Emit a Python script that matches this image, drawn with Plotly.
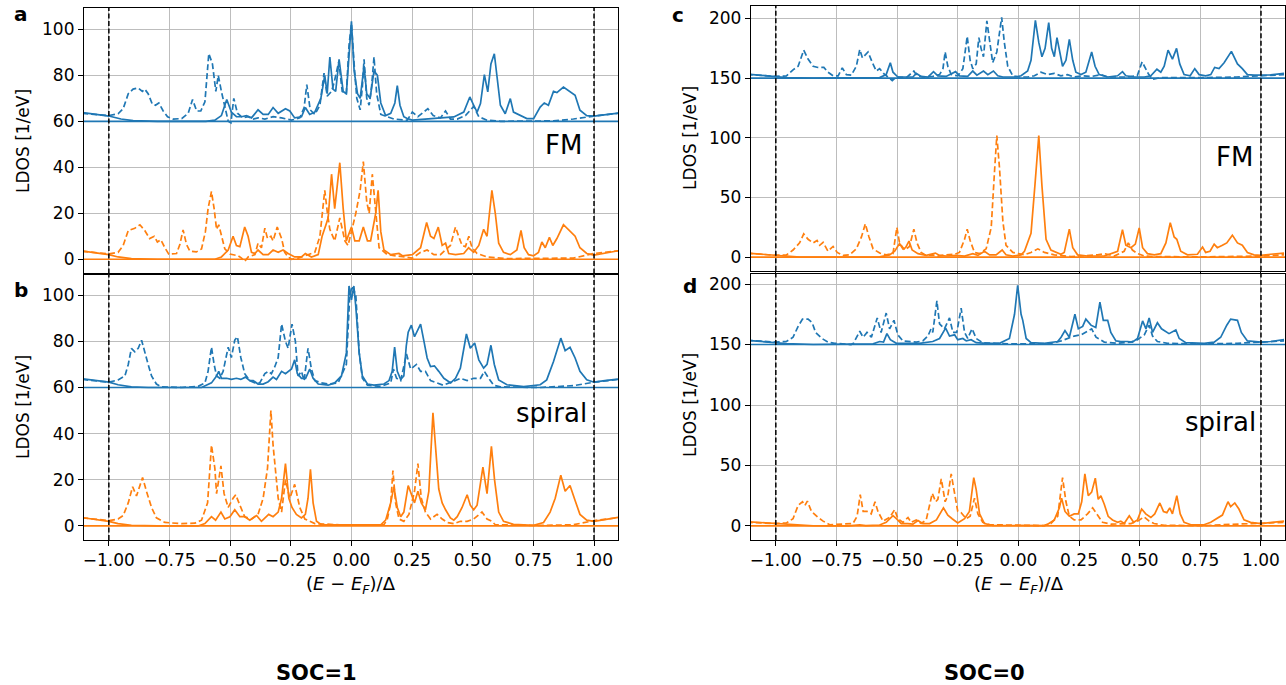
import plotly.graph_objects as go

# ---------------- data: (E-E_F)/Delta , LDOS [1/eV] (blue curves are drawn shifted upward) ----------------
XTICKS = [-1.0, -0.75, -0.5, -0.25, 0.0, 0.25, 0.5, 0.75, 1.0]
YTICKS_SOC1 = [0, 20, 40, 60, 80, 100]
YTICKS_SOC0 = [0, 50, 100, 150, 200]
GAP_EDGES = [-1.0, 1.0]
BASELINE = [(-1.12, 0.0), (1.12, 0.0)]

# panel a : SOC=1, FM
A_BLUE_SOLID = [(-1.11, 3.8), (-1.0, 2.3), (-0.95, 1.0), (-0.9, 0.3), (-0.8, 0), (-0.6, 0), (-0.563, 0.5), (-0.536, 2.5),
    (-0.514, 9.5), (-0.495, 4), (-0.474, 2), (-0.453, 2), (-0.433, 2.5), (-0.412, 1.5), (-0.385, 5), (-0.364, 3),
    (-0.343, 3), (-0.323, 6), (-0.302, 3.5), (-0.272, 5.5), (-0.254, 4.5), (-0.234, 1.5), (-0.206, 2), (-0.19, 6),
    (-0.172, 3), (-0.151, 4), (-0.126, 10), (-0.11, 20), (-0.1, 12), (-0.089, 28), (-0.076, 14), (-0.065, 13),
    (-0.051, 27), (-0.034, 13), (-0.021, 12), (-0.01, 30), (0.0, 43.5), (0.011, 22), (0.025, 12), (0.036, 10),
    (0.052, 24), (0.063, 12), (0.077, 10), (0.093, 22), (0.107, 20), (0.121, 8), (0.141, 2.5), (0.162, 3.5),
    (0.179, 8), (0.189, 15.5), (0.2, 7), (0.216, 2), (0.23, 1.2), (0.251, 0.5), (0.312, 1.0), (0.367, 1.5),
    (0.422, 1.9), (0.463, 4), (0.488, 10.6), (0.504, 7), (0.518, 4), (0.532, 7.7), (0.548, 20.3), (0.562, 12.8),
    (0.575, 25), (0.589, 29.4), (0.6, 18.6), (0.614, 7), (0.634, 3.3), (0.655, 9.9), (0.668, 4), (0.696, 2.5),
    (0.723, 1.2), (0.751, 1.2), (0.778, 6.2), (0.795, 8), (0.812, 7), (0.833, 13), (0.847, 12.5), (0.874, 14.9),
    (0.901, 12.8), (0.922, 11.3), (0.942, 4.8), (0.97, 2.5), (1.0, 2.3), (1.052, 3.0), (1.1, 3.6)]
A_BLUE_DASHED = [(-1.11, 3.5), (-1.0, 2.5), (-0.962, 3.3), (-0.941, 5.5), (-0.92, 12), (-0.9, 14), (-0.879, 14.5),
    (-0.862, 13), (-0.852, 14), (-0.838, 12), (-0.821, 7.5), (-0.808, 7), (-0.794, 8), (-0.776, 4.5), (-0.758, 2),
    (-0.735, 1), (-0.7, 1.2), (-0.673, 3.5), (-0.655, 9.5), (-0.638, 4.5), (-0.621, 4.5), (-0.604, 8.5),
    (-0.588, 29.5), (-0.573, 25), (-0.559, 13), (-0.549, 20), (-0.536, 13), (-0.522, 6), (-0.508, 0), (-0.497, -0.7),
    (-0.485, 10), (-0.47, 3.5), (-0.447, 1.5), (-0.426, 2), (-0.405, 1), (-0.385, 1.5), (-0.357, 1), (-0.323, 2),
    (-0.288, 1.5), (-0.247, 0.5), (-0.213, 1.5), (-0.195, 6), (-0.184, 16), (-0.17, 5), (-0.151, 3), (-0.13, 7),
    (-0.113, 21), (-0.1, 11), (-0.082, 13), (-0.071, 17), (-0.052, 26), (-0.038, 13), (-0.021, 12), (-0.01, 33),
    (0.0, 42.5), (0.011, 25), (0.022, 10), (0.036, 5), (0.045, 15), (0.052, 27), (0.063, 10), (0.073, 7),
    (0.083, 15), (0.093, 28), (0.104, 12), (0.121, 3), (0.148, 2), (0.175, 1), (0.23, 0.5), (0.251, 4), (0.274, 2),
    (0.292, 3.5), (0.315, 5.5), (0.337, 2.5), (0.367, 1.5), (0.388, 4.5), (0.408, 1), (0.436, 1), (0.47, 2.5),
    (0.504, 6.5), (0.525, 2), (0.559, 0.5), (0.614, 0), (0.833, 0.2), (0.915, 1), (1.0, 2.3), (1.1, 3.5)]
A_ORANGE_SOLID = [(-1.11, 3.6), (-1.0, 2), (-0.962, 1), (-0.907, 0.3), (-0.8, 0), (-0.563, 0), (-0.536, 1),
    (-0.508, 4), (-0.488, 10), (-0.474, 6), (-0.46, 5.5), (-0.44, 14), (-0.426, 10), (-0.412, 3), (-0.398, 2.5),
    (-0.385, 4), (-0.364, 2), (-0.343, 2), (-0.323, 4), (-0.302, 3), (-0.282, 4), (-0.261, 2.5), (-0.234, 1),
    (-0.206, 1), (-0.19, 2.5), (-0.165, 1), (-0.137, 2), (-0.121, 10), (-0.105, 15), (-0.096, 18), (-0.082, 37),
    (-0.069, 22), (-0.048, 42), (-0.034, 22), (-0.021, 8), (0.0, 14), (0.014, 8), (0.032, 8), (0.049, 14),
    (0.066, 8), (0.079, 8), (0.1, 20), (0.11, 30), (0.121, 12), (0.134, 4), (0.162, 2), (0.196, 2.5), (0.21, 1.5),
    (0.251, 2), (0.285, 5), (0.31, 16), (0.326, 10), (0.34, 9), (0.358, 14), (0.374, 6), (0.388, 7), (0.401, 2.5),
    (0.429, 2), (0.463, 2.5), (0.483, 5), (0.504, 3), (0.525, 6), (0.545, 13), (0.559, 10), (0.579, 30),
    (0.593, 20), (0.607, 7), (0.627, 3), (0.655, 2), (0.682, 4), (0.699, 12.5), (0.712, 5), (0.73, 2),
    (0.751, 1.5), (0.771, 3), (0.785, 7.5), (0.799, 5), (0.816, 9.5), (0.83, 6), (0.847, 9), (0.874, 15),
    (0.901, 12), (0.922, 10), (0.942, 5), (0.97, 2.5), (1.0, 1.8), (1.1, 3.7)]
A_ORANGE_DASHED = [(-1.11, 3.5), (-1.0, 2.3), (-0.962, 3), (-0.941, 6), (-0.92, 12.5), (-0.893, 13.5),
    (-0.872, 15), (-0.852, 12.5), (-0.832, 9), (-0.813, 10), (-0.8, 7.5), (-0.786, 8.5), (-0.769, 5), (-0.753, 2.2),
    (-0.721, 2.5), (-0.707, 6.5), (-0.694, 12.8), (-0.68, 6.5), (-0.666, 3.5), (-0.639, 3.2), (-0.618, 4.5),
    (-0.602, 12), (-0.591, 22), (-0.577, 29.5), (-0.566, 22), (-0.556, 13), (-0.547, 15), (-0.536, 10),
    (-0.522, 4.5), (-0.501, 2.3), (-0.467, 1.5), (-0.453, 0.5), (-0.44, -1), (-0.426, 1), (-0.398, 2), (-0.385, 7),
    (-0.371, 5), (-0.357, 13.5), (-0.346, 9), (-0.332, 10), (-0.323, 8), (-0.306, 14), (-0.288, 9), (-0.275, 3),
    (-0.261, 1), (-0.247, 0), (-0.22, 0.5), (-0.192, 1.5), (-0.151, 3), (-0.13, 10), (-0.11, 30), (-0.099, 20),
    (-0.089, 13), (-0.069, 8), (-0.048, 18), (-0.027, 8), (-0.014, 6), (0.0, 12), (0.018, 20), (0.036, 30),
    (0.049, 42.5), (0.063, 25), (0.073, 20), (0.086, 37), (0.1, 20), (0.114, 5), (0.148, 2), (0.23, 1),
    (0.251, 0.5), (0.285, 3), (0.312, 4), (0.34, 2), (0.367, 2), (0.408, 6), (0.429, 14), (0.442, 10), (0.456, 6),
    (0.47, 5.5), (0.484, 10), (0.497, 5), (0.518, 2.5), (0.559, 1), (0.641, 0.3), (0.915, 0.5), (1.0, 2.5),
    (1.1, 3.7)]

# panel b : SOC=1, spiral
B_BLUE_SOLID = [(-1.11, 3.8), (-1.0, 2.3), (-0.962, 1.2), (-0.907, 0.3), (-0.838, 0), (-0.618, 0), (-0.577, 2),
    (-0.556, 5), (-0.547, 7), (-0.536, 4), (-0.515, 4), (-0.495, 3.5), (-0.474, 4), (-0.456, 3.5), (-0.437, 4.5),
    (-0.419, 3), (-0.405, 3), (-0.385, 1.5), (-0.364, 1.5), (-0.343, 2.5), (-0.323, 4.5), (-0.309, 3.5),
    (-0.288, 7), (-0.272, 6), (-0.247, 8), (-0.234, 12), (-0.223, 6), (-0.206, 4), (-0.189, 4), (-0.172, 8),
    (-0.158, 4), (-0.137, 1.5), (-0.096, 1), (-0.069, 2), (-0.041, 5), (-0.021, 15), (-0.01, 44), (0.0, 38),
    (0.01, 44), (0.018, 35), (0.032, 15), (0.045, 5), (0.066, 1.5), (0.093, 1), (0.134, 1.5), (0.155, 3),
    (0.168, 7), (0.178, 17.5), (0.189, 7), (0.203, 3.5), (0.216, 5), (0.226, 18), (0.234, 24), (0.247, 27),
    (0.26, 22), (0.285, 27.5), (0.299, 20), (0.312, 12.8), (0.326, 9.1), (0.342, 9.4), (0.36, 7), (0.381, 4),
    (0.409, 2), (0.429, 4), (0.449, 8.4), (0.474, 23.2), (0.49, 17), (0.508, 19.3), (0.525, 12), (0.545, 8.4),
    (0.559, 10), (0.575, 18.3), (0.589, 10), (0.607, 3.3), (0.641, 1.2), (0.71, 0.4), (0.778, 1.2), (0.805, 3.3),
    (0.833, 11.3), (0.863, 21.4), (0.881, 16), (0.901, 17.4), (0.922, 12.8), (0.942, 7), (0.97, 3.3), (1.0, 2.3),
    (1.052, 3.1), (1.1, 3.6)]
B_BLUE_DASHED = [(-1.11, 3.5), (-1.0, 2.3), (-0.962, 3.3), (-0.934, 5), (-0.92, 10), (-0.907, 17), (-0.893, 15.5),
    (-0.879, 17), (-0.865, 20.5), (-0.852, 15), (-0.838, 10), (-0.824, 5), (-0.804, 1.5), (-0.783, 0.3), (-0.7, 0),
    (-0.632, 0.5), (-0.604, 2), (-0.591, 7), (-0.577, 17.5), (-0.566, 10), (-0.556, 5), (-0.543, 4), (-0.529, 7),
    (-0.508, 17.5), (-0.495, 13), (-0.481, 20.5), (-0.47, 22), (-0.456, 13), (-0.44, 6), (-0.419, 3), (-0.398, 2),
    (-0.378, 2), (-0.357, 6), (-0.343, 7), (-0.33, 6), (-0.316, 9), (-0.302, 13), (-0.288, 27.5), (-0.272, 20),
    (-0.261, 17), (-0.245, 27.5), (-0.231, 20), (-0.22, 5), (-0.206, 7), (-0.195, 3), (-0.179, 17), (-0.165, 8),
    (-0.151, 3), (-0.124, 2), (-0.096, 1.5), (-0.055, 2), (-0.021, 10), (-0.007, 40), (0.003, 44), (0.018, 40),
    (0.032, 15), (0.045, 4), (0.066, 1), (0.121, 0.5), (0.162, 2), (0.173, 8), (0.186, 4), (0.203, 3),
    (0.227, 14.5), (0.244, 8), (0.268, 10), (0.285, 7), (0.305, 7), (0.326, 3), (0.353, 2), (0.378, 1), (0.429, 3),
    (0.449, 4), (0.477, 3), (0.504, 4), (0.532, 4), (0.548, 7), (0.566, 4), (0.586, 1), (0.614, 0.3), (0.778, 0),
    (0.915, 0.8), (1.0, 2.3), (1.1, 3.5)]
B_ORANGE_SOLID = [(-1.11, 3.6), (-1.0, 2), (-0.962, 1), (-0.907, 0.3), (-0.8, 0), (-0.632, 0), (-0.604, 1),
    (-0.577, 4), (-0.56, 2.5), (-0.538, 6), (-0.522, 3), (-0.501, 4), (-0.481, 7), (-0.46, 4), (-0.44, 4),
    (-0.419, 2.5), (-0.391, 4.5), (-0.371, 2), (-0.341, 5), (-0.323, 4), (-0.302, 6), (-0.288, 12), (-0.272, 27),
    (-0.258, 12), (-0.245, 8), (-0.227, 5), (-0.206, 3.5), (-0.19, 5), (-0.179, 12), (-0.169, 24.5), (-0.158, 10),
    (-0.144, 2), (-0.124, 0.5), (-0.014, 0.5), (0.0, 0.3), (0.121, 0.5), (0.141, 2.5), (0.162, 10), (0.175, 17),
    (0.189, 8), (0.203, 4), (0.216, 6), (0.234, 17.5), (0.247, 14), (0.26, 10), (0.274, 15), (0.288, 10),
    (0.305, 7), (0.319, 15), (0.336, 49), (0.347, 35), (0.36, 16), (0.374, 10), (0.388, 7), (0.408, 3.5),
    (0.422, 2.5), (0.436, 4), (0.456, 8), (0.477, 13.5), (0.49, 9), (0.504, 7), (0.518, 9), (0.542, 25.5),
    (0.559, 14), (0.577, 34.5), (0.59, 20), (0.607, 6), (0.627, 2), (0.668, 0.7), (0.751, 0.3), (0.792, 1.5),
    (0.819, 6), (0.84, 12), (0.863, 22), (0.881, 15), (0.901, 17.5), (0.922, 11), (0.942, 5), (0.97, 2.5),
    (1.0, 2), (1.1, 3.7)]
B_ORANGE_DASHED = [(-1.11, 3.5), (-1.0, 2.3), (-0.962, 3), (-0.941, 4.5), (-0.92, 10), (-0.902, 17), (-0.886, 13),
    (-0.861, 21), (-0.845, 15), (-0.824, 8), (-0.804, 3.5), (-0.769, 1.5), (-0.7, 1), (-0.645, 1.2), (-0.618, 2.5),
    (-0.593, 10), (-0.577, 35), (-0.563, 25), (-0.556, 14), (-0.538, 26), (-0.525, 14), (-0.508, 8), (-0.488, 12),
    (-0.477, 13.5), (-0.46, 9), (-0.44, 4), (-0.412, 3), (-0.385, 5), (-0.364, 12), (-0.346, 25), (-0.332, 50),
    (-0.323, 35), (-0.302, 12), (-0.288, 6), (-0.272, 20), (-0.254, 12), (-0.234, 18), (-0.213, 8), (-0.192, 3),
    (-0.172, 2), (-0.151, 1), (-0.05, 0.5), (0.0, 0.3), (0.134, 0.5), (0.148, 3), (0.162, 10), (0.171, 24),
    (0.182, 10), (0.196, 3), (0.216, 2), (0.237, 5), (0.26, 15), (0.274, 27), (0.288, 12), (0.305, 6), (0.326, 3),
    (0.353, 5), (0.374, 3), (0.395, 1.5), (0.422, 1), (0.449, 2), (0.477, 2), (0.504, 3), (0.538, 6), (0.559, 3),
    (0.579, 2), (0.593, 0.5), (0.778, 0.2), (0.915, 0.5), (1.0, 2.3), (1.1, 3.6)]

# panel c : SOC=0, FM
C_BLUE_SOLID = [(-1.12, 3.5), (-1.0, 1.5), (-0.956, 0.5), (-0.846, 0), (-0.572, 0.5), (-0.545, 3), (-0.528, 13),
    (-0.517, 5), (-0.497, 1), (-0.435, 1), (-0.421, 4), (-0.401, 1.5), (-0.373, 1), (-0.35, 5.5), (-0.332, 2),
    (-0.298, 1.5), (-0.259, 5.5), (-0.243, 2), (-0.209, 1.5), (-0.188, 6), (-0.171, 2.5), (-0.144, 6),
    (-0.126, 3), (-0.103, 6), (-0.085, 2), (-0.064, 1), (-0.016, 1), (0.011, 2), (0.038, 6), (0.052, 15),
    (0.07, 48.5), (0.084, 30), (0.097, 18), (0.11, 25), (0.125, 46.5), (0.137, 25), (0.148, 18), (0.159, 34),
    (0.169, 22), (0.182, 10), (0.196, 15), (0.21, 32.5), (0.224, 15), (0.237, 5), (0.258, 3), (0.278, 5),
    (0.302, 22), (0.316, 10), (0.333, 3), (0.368, 1), (0.409, 2), (0.429, 5.5), (0.443, 2), (0.477, 1), (0.519, 1),
    (0.546, 2), (0.571, 7.5), (0.587, 5), (0.601, 10), (0.617, 23.5), (0.635, 16), (0.652, 25), (0.665, 12),
    (0.683, 3), (0.708, 2), (0.727, 8), (0.745, 3), (0.772, 2), (0.793, 3), (0.809, 9), (0.827, 8), (0.848, 13),
    (0.878, 22.5), (0.903, 12), (0.923, 8), (0.944, 3), (0.971, 2.5), (1.0, 2.5), (1.04, 2.8), (1.095, 4)]
C_BLUE_DASHED = [(-1.12, 3.2), (-1.0, 1.5), (-0.956, 2), (-0.929, 7), (-0.908, 10), (-0.885, 23.5), (-0.867, 16),
    (-0.846, 10), (-0.826, 9), (-0.802, 9), (-0.785, 5), (-0.764, 2), (-0.743, 2), (-0.726, 8.7), (-0.709, 3),
    (-0.689, 2.5), (-0.668, 10), (-0.654, 24), (-0.643, 17), (-0.62, 22), (-0.602, 13), (-0.586, 6), (-0.572, 8),
    (-0.556, 4), (-0.538, 1), (-0.52, -2), (-0.503, 1), (-0.462, 0.5), (-0.431, 6), (-0.418, 2), (-0.394, 1),
    (-0.353, 1.5), (-0.325, 3), (-0.311, 8), (-0.302, 22), (-0.291, 10), (-0.277, 3), (-0.25, 2), (-0.229, 8),
    (-0.211, 35), (-0.199, 15), (-0.188, 8), (-0.174, 12), (-0.163, 34), (-0.154, 25), (-0.144, 18), (-0.13, 48),
    (-0.119, 30), (-0.106, 13), (-0.089, 22), (-0.069, 51), (-0.058, 30), (-0.044, 10), (-0.023, 2), (0.0, 1),
    (0.038, 1), (0.066, 2), (0.093, 5), (0.121, 3), (0.148, 4), (0.175, 2), (0.203, 3), (0.23, 1), (0.265, 2),
    (0.302, 1.5), (0.34, 3), (0.368, 1), (0.45, 1), (0.49, 2), (0.51, 13.7), (0.535, 4), (0.553, -1), (0.587, 0.5),
    (0.766, 0.5), (0.9, 1), (1.0, 2), (1.095, 3)]
C_ORANGE_SOLID = [(-1.12, 3.5), (-1.0, 1.5), (-0.956, 0.5), (-0.9, 0), (-0.572, 0.3), (-0.531, 2), (-0.51, 5),
    (-0.49, 11.5), (-0.476, 7), (-0.465, 8), (-0.451, 13.5), (-0.438, 6), (-0.414, 3), (-0.38, 1.5), (-0.342, 3.5),
    (-0.325, 1.5), (-0.298, 1), (-0.257, 1.5), (-0.222, 1), (-0.188, 3), (-0.167, 1.5), (-0.14, 5), (-0.119, 2),
    (-0.092, 2), (-0.067, 6), (-0.051, 2), (-0.023, 1), (0.011, 2), (0.025, 5), (0.052, 20), (0.068, 60),
    (0.084, 102), (0.097, 60), (0.114, 15), (0.134, 6), (0.155, 4.5), (0.175, 2.5), (0.189, 4), (0.21, 23.5),
    (0.224, 8), (0.244, 2), (0.285, 1), (0.354, 1), (0.409, 5), (0.429, 23), (0.443, 10), (0.464, 8), (0.482, 11),
    (0.498, 24.5), (0.512, 8), (0.532, 3), (0.56, 2), (0.587, 3), (0.608, 12), (0.626, 29), (0.642, 17),
    (0.653, 15), (0.669, 5), (0.697, 2), (0.738, 2.5), (0.759, 8.5), (0.772, 4), (0.79, 5), (0.807, 11),
    (0.82, 8), (0.841, 10), (0.859, 12), (0.882, 18.5), (0.903, 12), (0.923, 10), (0.944, 4), (0.971, 2),
    (1.0, 1.5), (1.04, 2.5), (1.095, 3.5)]
C_ORANGE_DASHED = [(-1.12, 3.5), (-1.0, 1.5), (-0.956, 2), (-0.929, 6), (-0.902, 12), (-0.885, 19.5), (-0.867, 15),
    (-0.846, 12), (-0.83, 14), (-0.819, 10), (-0.805, 12.5), (-0.785, 5), (-0.764, 9), (-0.747, 4), (-0.722, 1.5),
    (-0.695, 2), (-0.668, 7), (-0.647, 17), (-0.631, 28), (-0.616, 17), (-0.599, 7), (-0.572, 3.5), (-0.545, 2),
    (-0.517, 3), (-0.501, 25), (-0.49, 12), (-0.469, 6), (-0.449, 9), (-0.431, 23.5), (-0.418, 12), (-0.401, 4),
    (-0.38, 1.5), (-0.353, 2), (-0.332, 1), (-0.298, 2), (-0.263, 2.5), (-0.243, 4), (-0.222, 15), (-0.211, 23.5),
    (-0.199, 14), (-0.181, 4), (-0.16, 3), (-0.133, 7), (-0.112, 25), (-0.099, 70), (-0.089, 102), (-0.078, 75),
    (-0.064, 30), (-0.051, 10), (-0.023, 4), (0.0, 3), (0.025, 2), (0.052, 4), (0.08, 7), (0.107, 4), (0.148, 2),
    (0.217, 0.5), (0.327, 2), (0.354, 3), (0.395, 1), (0.436, 5), (0.453, 12), (0.47, 6), (0.491, 3), (0.519, 1),
    (0.56, 0.5), (0.766, 0.3), (1.0, 1), (1.095, 2)]

# panel d : SOC=0, spiral
D_BLUE_SOLID = [(-1.12, 3.5), (-1.0, 1.8), (-0.956, 0.8), (-0.846, 0), (-0.599, 0.5), (-0.572, 2.5), (-0.556, 2),
    (-0.542, 9), (-0.528, 4), (-0.503, 1), (-0.408, 1), (-0.353, 2.5), (-0.325, 5), (-0.3, 13.5), (-0.284, 7),
    (-0.263, 8), (-0.25, 4), (-0.229, 5), (-0.215, 3), (-0.195, 4), (-0.174, 1.5), (-0.133, 1), (-0.078, 1),
    (-0.037, 5), (-0.016, 25), (-0.003, 49), (0.011, 25), (0.018, 20), (0.032, 5), (0.052, 1.5), (0.107, 1),
    (0.162, 2.5), (0.176, 6), (0.192, 11.5), (0.21, 6), (0.233, 25), (0.247, 13), (0.265, 15), (0.278, 21),
    (0.299, 16), (0.319, 14), (0.336, 35), (0.35, 20), (0.368, 20), (0.381, 10), (0.402, 3), (0.422, 2.5),
    (0.45, 2.5), (0.47, 2), (0.491, 5), (0.512, 19.5), (0.526, 13), (0.539, 22), (0.553, 10), (0.573, 18),
    (0.59, 13), (0.608, 11), (0.621, 9), (0.649, 12), (0.663, 5), (0.69, 1.5), (0.766, 1), (0.807, 2), (0.834, 6),
    (0.859, 16), (0.875, 21), (0.903, 20), (0.919, 10), (0.944, 3), (1.0, 2), (1.04, 2.5), (1.095, 4)]
D_BLUE_DASHED = [(-1.12, 3.5), (-1.0, 2), (-0.956, 2.5), (-0.929, 6), (-0.908, 15), (-0.89, 21), (-0.867, 21),
    (-0.85, 18), (-0.836, 10), (-0.822, 7), (-0.81, 5), (-0.785, 2), (-0.757, 1), (-0.69, 0), (-0.68, 1),
    (-0.654, 11), (-0.64, 6), (-0.624, 10), (-0.606, 6), (-0.582, 22), (-0.566, 10), (-0.545, 26), (-0.531, 13),
    (-0.513, 20), (-0.497, 8), (-0.476, 3), (-0.449, 2.5), (-0.421, 2), (-0.394, 3), (-0.373, 7), (-0.36, 13),
    (-0.353, 10), (-0.336, 36), (-0.325, 17), (-0.305, 13), (-0.284, 22), (-0.27, 10), (-0.254, 10), (-0.236, 30),
    (-0.222, 10), (-0.209, 5), (-0.191, 13), (-0.174, 5), (-0.147, 1.5), (-0.092, 1), (-0.023, 0.5), (0.08, 0.5),
    (0.134, 1), (0.176, 3), (0.203, 5), (0.23, 7), (0.258, 8), (0.276, 10), (0.302, 13), (0.32, 6), (0.354, 2),
    (0.409, 1), (0.464, 2), (0.491, 4), (0.519, 8), (0.539, 16), (0.553, 7), (0.573, 2.5), (0.615, 1), (0.765, 0.5),
    (0.903, 1), (1.0, 2), (1.095, 3)]
D_ORANGE_SOLID = [(-1.12, 3.5), (-1.0, 2), (-0.956, 1), (-0.846, 0.2), (-0.7, 0), (-0.654, 1), (-0.629, 0.3),
    (-0.572, 0.8), (-0.545, 3), (-0.517, 8.5), (-0.503, 6), (-0.483, 2), (-0.456, 2), (-0.435, 1.5), (-0.414, 4.5),
    (-0.394, 2), (-0.366, 2), (-0.338, 5), (-0.309, 15), (-0.291, 9), (-0.273, 6), (-0.25, 2.5), (-0.222, 6),
    (-0.202, 12), (-0.184, 40), (-0.174, 30), (-0.16, 10), (-0.14, 2), (-0.106, 0.5), (0.0, 0.3), (0.107, 0.3),
    (0.121, 1.5), (0.148, 5), (0.169, 15), (0.178, 23), (0.192, 12), (0.21, 8), (0.23, 10), (0.247, 10),
    (0.261, 20), (0.274, 43), (0.288, 25), (0.302, 28), (0.317, 39.5), (0.329, 22), (0.34, 25), (0.354, 18),
    (0.37, 8), (0.388, 5), (0.409, 3), (0.422, 4), (0.436, 2), (0.457, 8.5), (0.475, 3), (0.491, 5), (0.508, 14),
    (0.525, 10), (0.546, 7), (0.562, 10), (0.583, 19), (0.598, 12), (0.612, 11), (0.624, 15), (0.635, 10),
    (0.653, 25), (0.667, 10), (0.683, 3), (0.711, 1), (0.765, 1), (0.793, 3), (0.82, 6), (0.841, 9), (0.864, 20),
    (0.875, 16), (0.892, 19), (0.909, 14), (0.93, 5), (0.957, 3), (1.0, 2), (1.04, 3), (1.095, 4)]
D_ORANGE_DASHED = [(-1.12, 3), (-1.0, 2), (-0.956, 2.5), (-0.929, 6), (-0.908, 17), (-0.89, 20), (-0.88, 17),
    (-0.87, 20.5), (-0.853, 12), (-0.826, 7), (-0.805, 4), (-0.778, 1), (-0.682, 2), (-0.665, 8), (-0.652, 26),
    (-0.64, 12), (-0.624, 12), (-0.607, 10), (-0.591, 20), (-0.579, 12), (-0.558, 4), (-0.531, 7), (-0.51, 13.5),
    (-0.497, 6), (-0.476, 3), (-0.455, 7), (-0.442, 3), (-0.421, 5), (-0.401, 2), (-0.38, 5), (-0.355, 27),
    (-0.341, 20), (-0.332, 22), (-0.318, 39), (-0.302, 20), (-0.291, 25), (-0.277, 43), (-0.263, 25), (-0.25, 12),
    (-0.236, 11), (-0.215, 6), (-0.199, 8), (-0.181, 23), (-0.167, 10), (-0.147, 3), (-0.119, 1), (-0.023, 0.5),
    (0.107, 0.3), (0.134, 2), (0.162, 8), (0.182, 40), (0.196, 20), (0.21, 8), (0.23, 5), (0.258, 5), (0.285, 10),
    (0.306, 15), (0.324, 10), (0.347, 3), (0.381, 1.5), (0.422, 2), (0.464, 2), (0.491, 4), (0.518, 7.5),
    (0.539, 4), (0.559, 2), (0.601, 0.5), (0.765, 0.3), (0.834, 1), (0.903, 1.5), (1.0, 2.5), (1.095, 3)]

PANEL_LABELS = ["a", "b", "c", "d"]
STATE_LABELS = ["FM", "spiral", "FM", "spiral"]
COLUMN_TITLES = ["SOC=1", "SOC=0"]
Y_TITLE = "LDOS [1/eV]"
X_TITLE = "(<i>E</i> − <i>E</i><sub><i>F</i></sub>)/Δ"

# ---------------- layout helpers (pixels of the 1286x685 canvas) ----------------
W, H = 1286, 685
BLUE, ORANGE = "#1f77b4", "#ff7f0e"
FONT = "DejaVu Sans"

def fx(p):
    return p / W

def fy(p):
    return 1 - p / H

panels = [
    dict(sfx="", blue_shift=60, yr=[-6.2, 109.3], yt=YTICKS_SOC1, xd=(83, 618), yd=(8, 273.5), showx=False,
         data=(A_BLUE_SOLID, A_BLUE_DASHED, A_ORANGE_SOLID, A_ORANGE_DASHED)),
    dict(sfx="2", blue_shift=60, yr=[-6.1, 109.2], yt=YTICKS_SOC1, xd=(83, 618), yd=(274, 540), showx=True,
         data=(B_BLUE_SOLID, B_BLUE_DASHED, B_ORANGE_SOLID, B_ORANGE_DASHED)),
    dict(sfx="3", blue_shift=150, yr=[-11.3, 210.5], yt=YTICKS_SOC0, xd=(751, 1286), yd=(6, 270.7), showx=False,
         data=(C_BLUE_SOLID, C_BLUE_DASHED, C_ORANGE_SOLID, C_ORANGE_DASHED)),
    dict(sfx="4", blue_shift=150, yr=[-11.6, 208.3], yt=YTICKS_SOC0, xd=(751, 1286), yd=(274, 540), showx=True,
         data=(D_BLUE_SOLID, D_BLUE_DASHED, D_ORANGE_SOLID, D_ORANGE_DASHED)),
]

fig = go.Figure()
DASH = "6px,3px"

for p in panels:
    xa, ya = "x" + p["sfx"], "y" + p["sfx"]
    bs, bd, os_, od = p["data"]
    shift = p["blue_shift"]
    curves = [
        (BASELINE, shift, BLUE, "solid"),
        (bd, shift, BLUE, DASH),
        (bs, shift, BLUE, "solid"),
        (BASELINE, 0, ORANGE, "solid"),
        (od, 0, ORANGE, DASH),
        (os_, 0, ORANGE, "solid"),
    ]
    for pts, sh, col, dash in curves:
        fig.add_trace(go.Scatter(
            x=[q[0] for q in pts], y=[q[1] + sh for q in pts], mode="lines",
            line=dict(color=col, width=1.7, dash=dash), xaxis=xa, yaxis=ya,
            showlegend=False, hoverinfo="skip"))
    for xe in GAP_EDGES:
        fig.add_shape(type="line", xref=xa, yref=ya + " domain", x0=xe, x1=xe, y0=0, y1=1,
                      line=dict(color="black", width=1.5, dash="5px,2.5px"), layer="above")

    axis_common = dict(showline=True, linecolor="black", linewidth=1, mirror=True,
                       ticks="outside", ticklen=5, tickwidth=1, tickcolor="black",
                       showgrid=True, gridcolor="#bdbdbd", gridwidth=1, zeroline=False,
                       tickfont=dict(family=FONT, size=17, color="black"))
    fig.update_layout(**{
        ("xaxis" + p["sfx"]): dict(axis_common, domain=[fx(p["xd"][0]), fx(p["xd"][1])],
                                  range=[-1.103, 1.099], anchor=ya, tickvals=XTICKS,
                                  ticktext=[("−" if v < 0 else "") + f"{abs(v):.2f}" for v in XTICKS],
                                  showticklabels=p["showx"]),
        ("yaxis" + p["sfx"]): dict(axis_common, domain=[fy(p["yd"][1]), fy(p["yd"][0])],
                                  range=p["yr"], anchor=xa, tickvals=p["yt"],
                                  ticktext=[str(v) for v in p["yt"]]),
    })

ann = []
def text(s, x, y, size, bold=False, angle=0):
    ann.append(dict(text=("<b>" + s + "</b>") if bold else s, x=fx(x), y=fy(y), xref="paper", yref="paper",
                    showarrow=False, xanchor="center", yanchor="middle", textangle=angle,
                    font=dict(family=FONT, size=size, color="black")))

# panel letters
for lab, (x, y) in zip(PANEL_LABELS, [(20, 14), (20, 290), (678, 15), (690, 286)]):
    text(lab, x, y, 20, bold=True)
# state labels
for lab, (x, y) in zip(STATE_LABELS, [(563, 145), (551, 413), (1235, 157), (1221, 422)]):
    text(lab, x, y, 26)
# y titles
for (x, y) in [(22, 141), (22, 407), (690, 138), (690, 405)]:
    text(Y_TITLE, x, y, 17, angle=-90)
# x titles
for x in [351, 1020]:
    text(X_TITLE, x, 585, 18)
# column titles
for lab, x in zip(COLUMN_TITLES, [316, 985]):
    text(lab, x, 673, 21, bold=True)

fig.update_layout(width=W, height=H, margin=dict(l=0, r=0, t=0, b=0), paper_bgcolor="white",
                  plot_bgcolor="white", showlegend=False, annotations=ann)

fig.write_html("out.html")
